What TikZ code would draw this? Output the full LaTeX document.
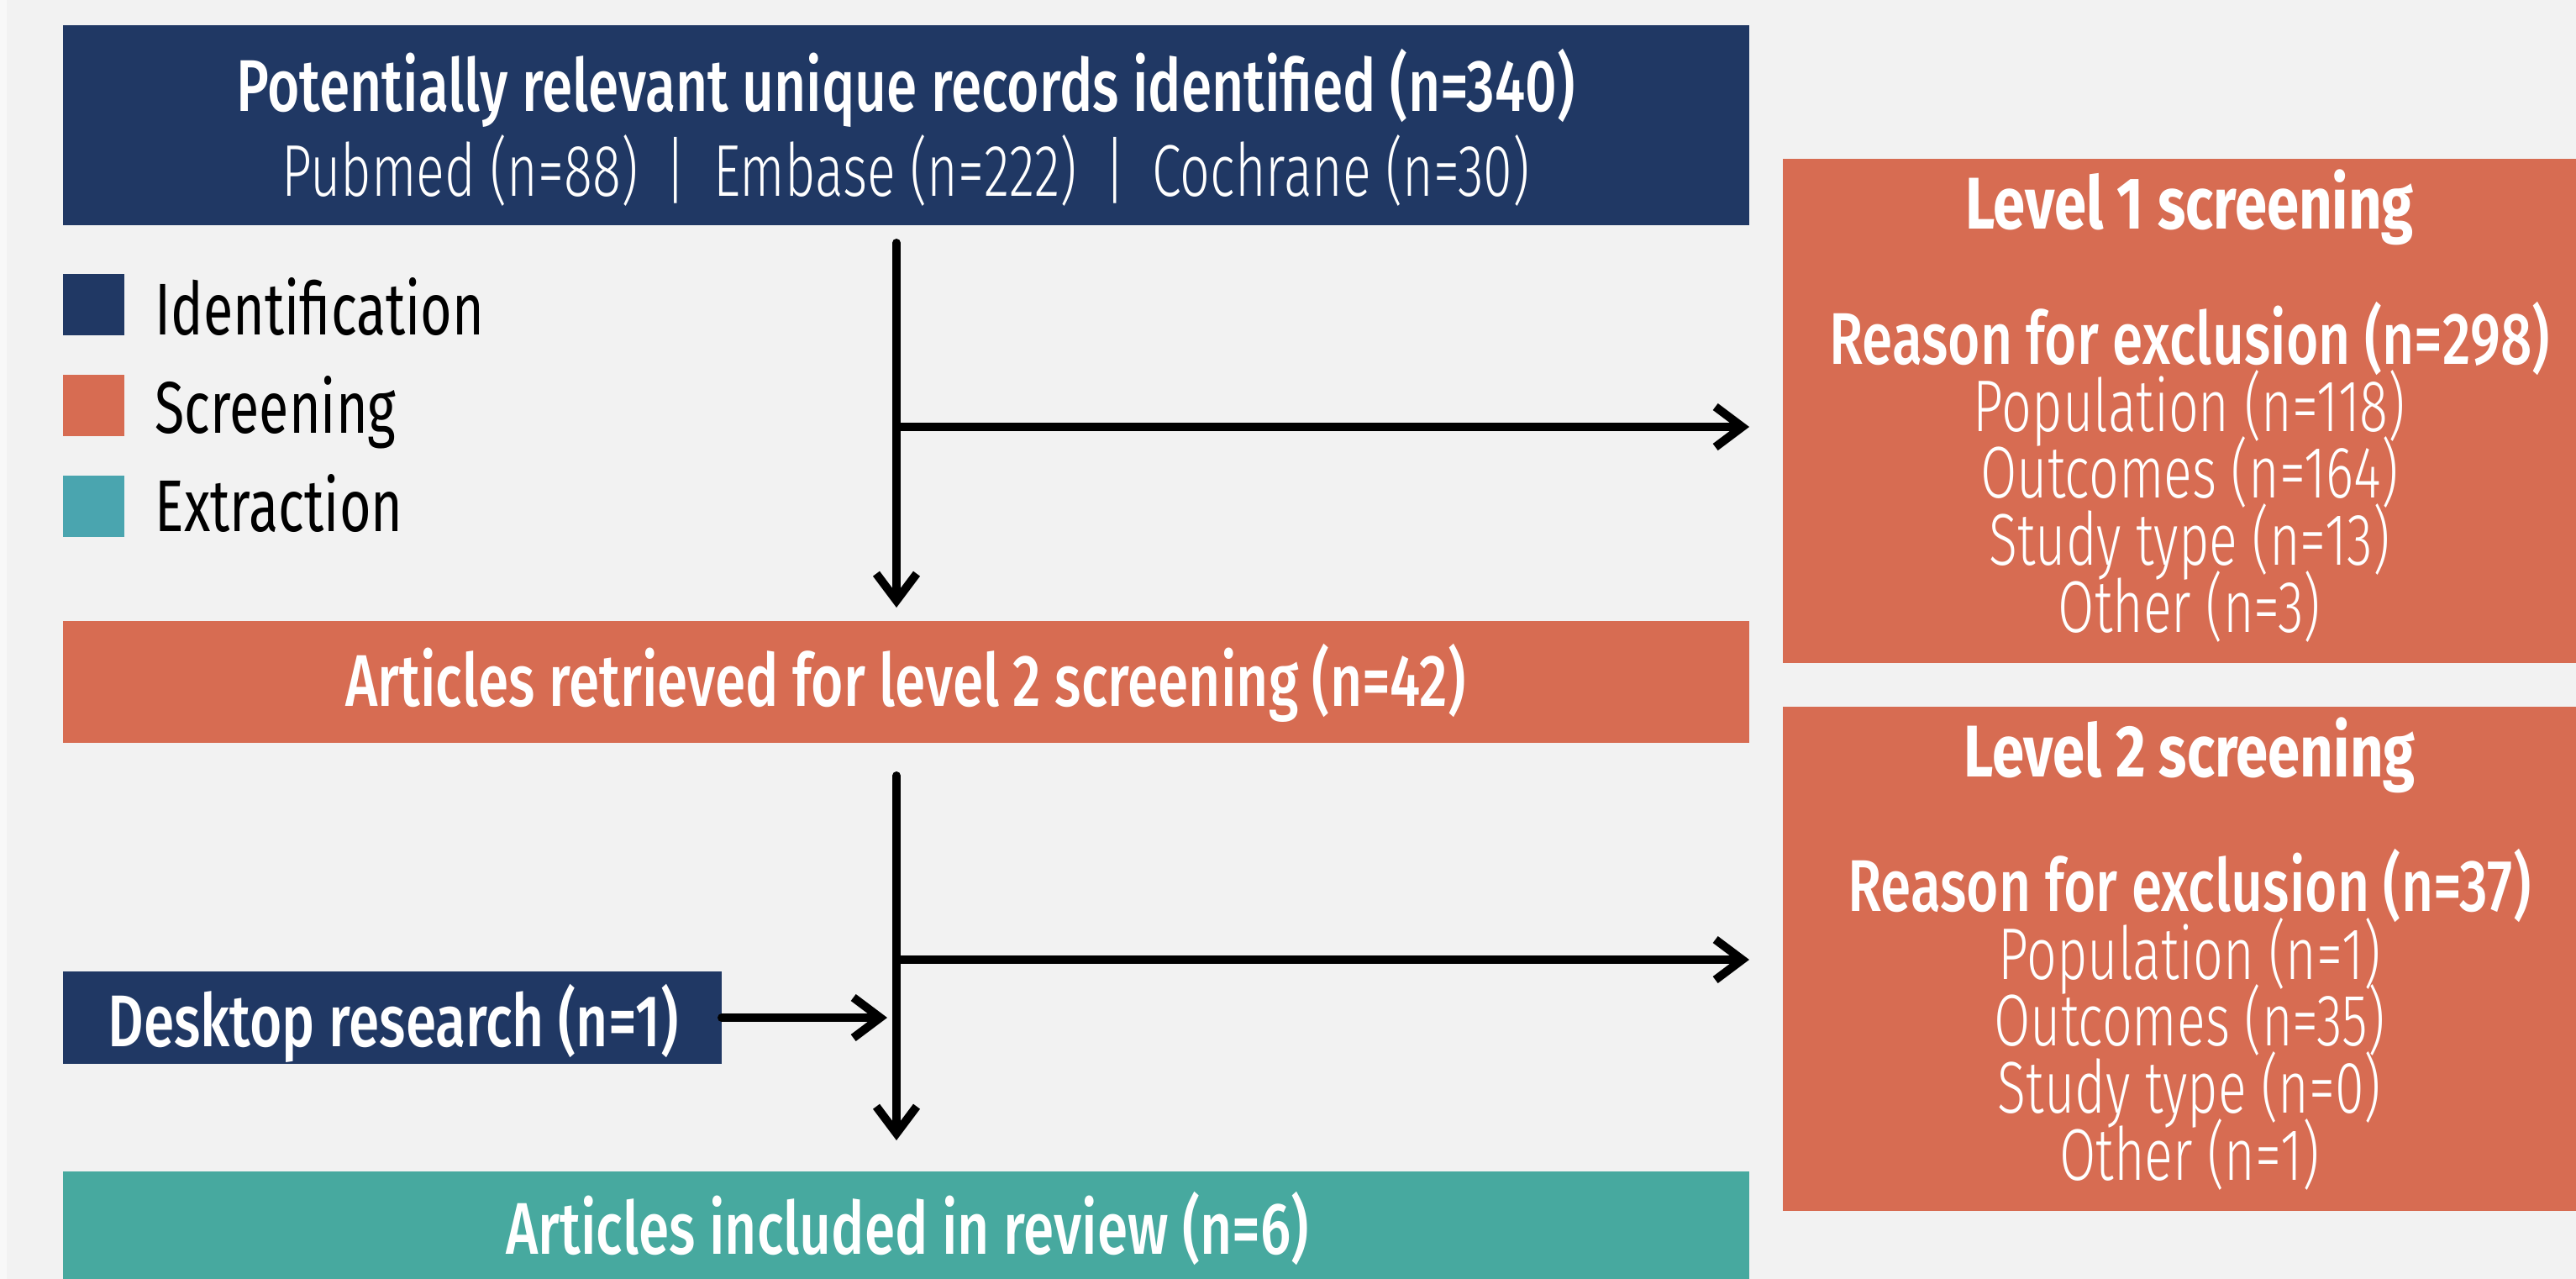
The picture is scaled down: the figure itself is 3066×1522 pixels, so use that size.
\documentclass[tikz,border=0pt]{standalone}
\usepackage{fontspec}
\setmainfont{Fira Sans}[FakeStretch=0.74]
\newfontfamily\medf{Fira Sans Medium}[FakeStretch=0.755]
\newfontfamily\lightf{Fira Sans Light}[FakeStretch=0.72]
\newfontfamily\boldf{Fira Sans Bold}[FakeStretch=0.79]
\usetikzlibrary{arrows.meta}
\definecolor{navy}{HTML}{203864}
\definecolor{scr}{HTML}{D76C52}
\definecolor{ext}{HTML}{47A99F}
\definecolor{extl}{HTML}{4AA5AF}
\definecolor{bgc}{HTML}{F2F2F2}
\definecolor{bgl}{HTML}{F8F8F8}
\newcommand\fsz{\fontsize{21.8pt}{26pt}\selectfont}
\tikzset{
 box/.style={draw=none, inner sep=0pt, outer sep=0pt, rectangle},
 txt/.style={inner sep=0pt, anchor=base, text=white},
 legtxt/.style={inner sep=0pt, anchor=base west, text=black, font=\fsz},
 arr/.style={line width=2.5pt, line cap=round, -{Straight Barb[length=8pt,width=12pt]}},
}
\begin{document}
\begin{tikzpicture}[x=0.25pt,y=-0.25pt]
\useasboundingbox (0,0) rectangle (3066,1522);
\fill[bgc] (0,0) rectangle (3066,1522);
\fill[bgl] (0,0) rectangle (8,1522);
% boxes
\node[box, fill=navy, minimum width=501.75pt, minimum height=59.5pt] (top) at (1078.5,149) {};
\node[box, fill=scr, minimum width=501.75pt, minimum height=36.25pt] (ret) at (1078.5,811.5) {};
\node[box, fill=ext, minimum width=501.75pt, minimum height=34pt] (incl) at (1078.5,1462) {};
\node[box, fill=navy, minimum width=196pt, minimum height=27.5pt] (desk) at (467,1211) {};
\node[box, fill=scr, minimum width=242pt, minimum height=150pt] (l1) at (2606,489) {};
\node[box, fill=scr, minimum width=242pt, minimum height=150pt] (l2) at (2606,1141) {};
% legend
\node[box, fill=navy, minimum size=18.25pt] (lg1) at (111.5,362.5) {};
\node[box, fill=scr, minimum size=18.25pt] (lg2) at (111.5,482.5) {};
\node[box, fill=extl, minimum size=18.25pt] (lg3) at (111.5,602.5) {};
\node[legtxt] (lt1) at (184,398) {Identification};
\node[legtxt] (lt2) at (184,515) {Screening};
\node[legtxt] (lt3) at (184,632) {Extraction};
% texts
\node[txt, font=\fsz\medf] (t1) at (1078,132) {Potentially relevant unique records identified (n=340)};
\node[txt, font=\fsz\lightf] (t2) at (1078,233) {Pubmed (n=88) \,|\, Embase (n=222) \,|\, Cochrane (n=30)};
\node[txt, font=\fsz\medf] (t3) at (1078,840) {Articles retrieved for level 2 screening (n=42)};
\node[txt, font=\fsz\medf] (t4) at (1080,1492) {Articles included in review (n=6)};
\node[txt, font=\fsz\medf] (t5) at (468,1245) {Desktop research (n=1)};
\node[txt, font=\fsz\boldf] (a1) at (2606,272) {Level 1 screening};
\node[txt, font=\fsz\medf] (a2) at (2606,433) {Reason for exclusion (n=298)};
\node[txt, font=\fsz\lightf] (a3) at (2606,513) {Population (n=118)};
\node[txt, font=\fsz\lightf] (a4) at (2606,592) {Outcomes (n=164)};
\node[txt, font=\fsz\lightf] (a5) at (2606,672) {Study type (n=13)};
\node[txt, font=\fsz\lightf] (a6) at (2606,752) {Other (n=3)};
\node[txt, font=\fsz\boldf] (b1) at (2606,924) {Level 2 screening};
\node[txt, font=\fsz\medf] (b2) at (2606,1084) {Reason for exclusion (n=37)};
\node[txt, font=\fsz\lightf] (b3) at (2606,1165) {Population (n=1)};
\node[txt, font=\fsz\lightf] (b4) at (2606,1244) {Outcomes (n=35)};
\node[txt, font=\fsz\lightf] (b5) at (2606,1324) {Study type (n=0)};
\node[txt, font=\fsz\lightf] (b6) at (2606,1404) {Other (n=1)};
% connectors
\coordinate (j1) at (1067,508);
\coordinate (j2) at (1067,1142);
\draw[arr] ([xshift=-2.875pt,yshift=-5.25pt]top.south) -- ([xshift=-2.875pt,yshift=4pt]ret.north);
\draw[arr, shorten >=10pt] (j1) -- (j1 -| l1.west);
\draw[arr] ([xshift=-2.875pt,yshift=-9.75pt]ret.south) -- ([xshift=-2.875pt,yshift=9.25pt]incl.north);
\draw[arr, shorten >=10pt] (j2) -- (j2 -| l2.west);
\draw[arr] (desk.east) -- ([xshift=-2.75pt]desk.east -| j2);
\end{tikzpicture}
\end{document}
